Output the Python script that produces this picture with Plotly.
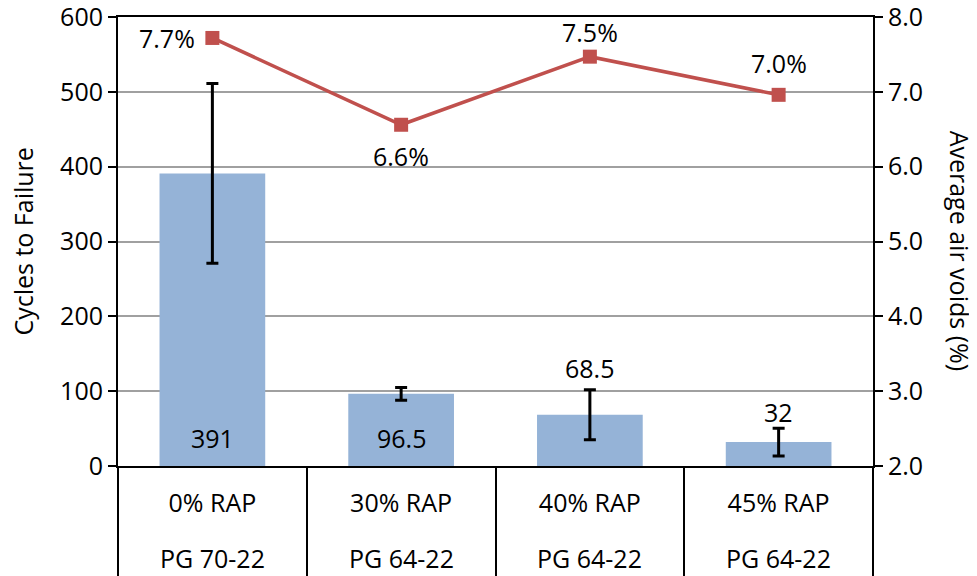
import plotly.graph_objects as go

# mixes and binder grades, one per bar
rap_labels = ["0% RAP", "30% RAP", "40% RAP", "45% RAP"]
binder_labels = ["PG 70-22", "PG 64-22", "PG 64-22", "PG 64-22"]

# cycles to failure (bars) and standard deviation (error bars)
cycles = [391, 96.5, 68.5, 32]
cycles_err = [120, 8.5, 33.5, 18.5]

# average air voids in % (line, right axis)
air_voids = [7.72, 6.56, 7.47, 6.96]

FONT = "Open Sans"
FS = 25
black_font = dict(family=FONT, size=FS, color="black")

# label placement (pixels), styling only
bar_label_shift = [28, 28, 22, 16]
void_label_shift = [(-45, 0), (0, -31), (0, 25), (0, 32)]

# the page body adds an 8px margin, so the figure is 8px smaller than the window
PAGE_PAD = 8

fig = go.Figure()

fig.add_trace(
    go.Bar(
        x=rap_labels,
        y=cycles,
        width=0.56,
        marker=dict(color="#95B3D7", line=dict(width=0)),
        error_y=dict(
            type="data",
            array=cycles_err,
            color="black",
            thickness=3,
            width=6,
        ),
        showlegend=False,
    )
)

fig.add_trace(
    go.Scatter(
        x=rap_labels,
        y=air_voids,
        yaxis="y2",
        mode="lines+markers",
        line=dict(color="#C0504D", width=3.5),
        marker=dict(symbol="square", size=14, color="#C0504D"),
        showlegend=False,
    )
)

annotations = []

# bar value labels: first two sit inside near the base, the others above the error bar
for i, (v, e) in enumerate(zip(cycles, cycles_err)):
    base = 0 if i < 2 else v + e
    annotations.append(
        dict(x=rap_labels[i], y=base, yref="y", text=f"{v:g}", showarrow=False,
             yanchor="middle", yshift=bar_label_shift[i], font=black_font)
    )

# air void labels
for i, v in enumerate(air_voids):
    dx, dy = void_label_shift[i]
    annotations.append(
        dict(x=rap_labels[i], y=v, yref="y2", text=f"{v:.1f}%", showarrow=False,
             xshift=dx, yshift=dy, font=black_font)
    )

# second row of the category table
for r, b in zip(rap_labels, binder_labels):
    annotations.append(
        dict(x=r, y=-0.205, yref="paper", text=b, showarrow=False,
             yanchor="middle", font=black_font)
    )

annotations.append(
    dict(x=-0.127, y=0.5, xref="paper", yref="paper", text="Cycles to Failure",
         textangle=-90, showarrow=False, xanchor="center", yanchor="middle",
         font=black_font)
)
annotations.append(
    dict(x=1.115, y=0.48, xref="paper", yref="paper", text="Average air voids (%)",
         textangle=90, showarrow=False, xanchor="center", yanchor="middle",
         font=black_font)
)

fig.update_layout(
    width=977 - PAGE_PAD,
    height=576 - PAGE_PAD,
    margin=dict(l=118 - PAGE_PAD, r=104, t=17 - PAGE_PAD, b=110),
    paper_bgcolor="white",
    plot_bgcolor="white",
    font=black_font,
    annotations=annotations,
    xaxis=dict(
        tickson="boundaries",
        ticks="outside",
        ticklen=115,
        tickwidth=1.5,
        tickcolor="black",
        ticklabelstandoff=14,
        showline=True,
        mirror=True,
        linecolor="black",
        linewidth=2,
        showgrid=False,
        automargin=False,
    ),
    yaxis=dict(
        range=[0, 600],
        dtick=100,
        ticks="outside",
        ticklen=8,
        tickwidth=2,
        tickcolor="black",
        showline=True,
        linecolor="black",
        linewidth=2,
        gridcolor="#A0A0A0",
        gridwidth=1.5,
        zeroline=False,
        automargin=False,
        ticklabeloverflow="allow",
    ),
    yaxis2=dict(
        range=[2, 8],
        dtick=1,
        tickformat=".1f",
        overlaying="y",
        side="right",
        ticks="outside",
        ticklen=8,
        tickwidth=2,
        tickcolor="black",
        showline=True,
        linecolor="black",
        linewidth=2,
        showgrid=False,
        zeroline=False,
        automargin=False,
        ticklabeloverflow="allow",
    ),
)

fig.write_html("out.html")
